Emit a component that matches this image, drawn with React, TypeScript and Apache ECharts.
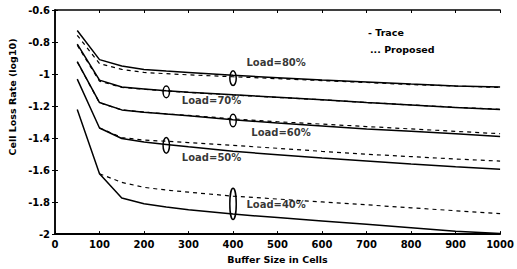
import React, { useEffect, useRef } from "react";
import * as echarts from "echarts";

const bufferSizes = [50, 100, 150, 200, 250, 300, 400, 500, 600, 700, 800, 900, 1000];

const trace80 = [-0.728, -0.91, -0.95, -0.971, -0.981, -0.99, -1.008, -1.023, -1.038, -1.05, -1.063, -1.075, -1.081];
const proposed80 = [-0.758, -0.935, -0.971, -0.99, -0.998, -1.005, -1.017, -1.029, -1.041, -1.053, -1.066, -1.075, -1.084];

const trace70 = [-0.813, -1.038, -1.081, -1.093, -1.105, -1.114, -1.13, -1.145, -1.16, -1.178, -1.193, -1.209, -1.221];
const proposed70 = [-0.82, -1.045, -1.083, -1.095, -1.106, -1.115, -1.131, -1.146, -1.161, -1.178, -1.193, -1.208, -1.22];

const trace60 = [-0.923, -1.178, -1.224, -1.239, -1.25, -1.26, -1.285, -1.306, -1.324, -1.343, -1.358, -1.373, -1.391];
const proposed60 = [-0.925, -1.18, -1.224, -1.238, -1.249, -1.258, -1.28, -1.298, -1.313, -1.328, -1.343, -1.358, -1.373];

const trace50 = [-1.032, -1.337, -1.403, -1.425, -1.44, -1.455, -1.483, -1.504, -1.525, -1.543, -1.562, -1.58, -1.595];
const proposed50 = [null, -1.337, -1.397, -1.413, -1.42, -1.428, -1.446, -1.464, -1.483, -1.501, -1.516, -1.531, -1.544];

const trace40 = [-1.221, -1.623, -1.775, -1.811, -1.83, -1.848, -1.875, -1.897, -1.918, -1.939, -1.96, -1.982, -1.997];
const proposed40 = [null, -1.623, -1.677, -1.708, -1.725, -1.738, -1.763, -1.781, -1.799, -1.817, -1.836, -1.854, -1.872];

// ellipse markers: [buffer size, top value, bottom value]
const ellipses = [
  [400, -0.98, -1.072],
  [250, -1.075, -1.148],
  [400, -1.251, -1.33],
  [250, -1.397, -1.495],
  [400, -1.714, -1.909],
];

// load labels: [buffer size, value, text]
const loadLabels: [number, number, string][] = [
  [430, -0.929, "Load=80%"],
  [285, -1.163, "Load=70%"],
  [441, -1.367, "Load=60%"],
  [285, -1.522, "Load=50%"],
  [430, -1.817, "Load=40%"],
];

const FONT = "DejaVu Sans";

function pair(vals: (number | null)[]) {
  return bufferSizes.map((x, i) => [x, vals[i]]);
}

export default function App() {
  const ref = useRef<HTMLDivElement>(null);
  useEffect(() => {
    if (!ref.current) return;
    const chart = echarts.init(ref.current, null, { renderer: "svg" });
    const solid = (vals: number[]) => ({
      type: "line",
      data: pair(vals),
      showSymbol: false,
      symbol: "none",
      lineStyle: { color: "#000", width: 1.5, type: "solid" },
      xAxisIndex: 0,
      yAxisIndex: 0,
      z: 3,
    });
    const dashed = (vals: (number | null)[]) => ({
      type: "line",
      data: pair(vals),
      showSymbol: false,
      symbol: "none",
      connectNulls: false,
      lineStyle: { color: "#000", width: 1.2, type: [4, 4] },
      xAxisIndex: 0,
      yAxisIndex: 0,
      z: 3,
    });
    const tickCommon = {
      axisTick: { inside: true, length: 3, lineStyle: { color: "#000", width: 1 } },
      splitLine: { show: false },
    };
    chart.setOption({
      animation: false,
      backgroundColor: "#fff",
      grid: { left: 55, right: 13, top: 10, bottom: 29, containLabel: false },
      xAxis: [
        {
          type: "value",
          min: 0,
          max: 1000,
          interval: 100,
          position: "bottom",
          axisLine: { lineStyle: { color: "#000", width: 1.8 } },
          axisLabel: {
            color: "#000",
            fontFamily: FONT,
            fontWeight: "bold",
            fontSize: 10,
            margin: 5,
            formatter: (v: number) => String(v),
          },
          name: "Buffer Size in Cells",
          nameLocation: "middle",
          nameGap: 15,
          nameTextStyle: { color: "#000", fontFamily: FONT, fontWeight: "bold", fontSize: 9.5 },
          ...tickCommon,
        },
        {
          type: "value",
          min: 0,
          max: 1000,
          interval: 100,
          position: "top",
          axisLine: { lineStyle: { color: "#000", width: 1.5 } },
          axisLabel: { show: false },
          ...tickCommon,
        },
      ],
      yAxis: [
        {
          type: "value",
          min: -2,
          max: -0.6,
          interval: 0.2,
          position: "left",
          axisLine: { show: true, lineStyle: { color: "#000", width: 1.5 } },
          axisLabel: {
            color: "#000",
            fontFamily: FONT,
            fontWeight: "bold",
            fontSize: 10,
            margin: 5,
            formatter: (v: number) => String(Math.round(v * 10) / 10),
          },
          ...tickCommon,
        },
        {
          type: "value",
          min: -2,
          max: -0.6,
          interval: 0.2,
          position: "right",
          axisLine: { show: true, lineStyle: { color: "#000", width: 1.5 } },
          axisLabel: { show: false },
          ...tickCommon,
        },
      ],
      series: [
        solid(trace80),
        dashed(proposed80),
        solid(trace70),
        dashed(proposed70),
        solid(trace60),
        dashed(proposed60),
        solid(trace50),
        dashed(proposed50),
        solid(trace40),
        dashed(proposed40),
        {
          type: "custom",
          data: ellipses,
          encode: { x: 0, y: [1, 2] },
          z: 5,
          renderItem: (params: any, api: any) => {
            const x = api.value(0);
            const p1 = api.coord([x, api.value(1)]);
            const p2 = api.coord([x, api.value(2)]);
            return {
              type: "ellipse",
              shape: {
                cx: p1[0],
                cy: (p1[1] + p2[1]) / 2,
                rx: 3.2,
                ry: Math.abs(p2[1] - p1[1]) / 2,
              },
              style: { fill: "rgba(255,255,255,0)", stroke: "#000", lineWidth: 1.5 },
            };
          },
        },
        {
          type: "scatter",
          symbolSize: 0,
          z: 6,
          data: loadLabels.map((d) => ({ value: [d[0], d[1]], name: d[2] })),
          label: {
            show: true,
            position: "right",
            distance: 0,
            formatter: (p: any) => p.name,
            color: "#000",
            fontFamily: FONT,
            fontWeight: "bold",
            fontSize: 10,
          },
        },
      ],
      graphic: [
        {
          type: "text",
          x: 12,
          y: 97,
          rotation: Math.PI / 2,
          style: {
            text: "Cell Loss Rate (log10)",
            font: `bold 9.5px "${FONT}"`,
            fill: "#000",
            textAlign: "center",
            textVerticalAlign: "middle",
          },
        },
        {
          type: "text",
          x: 368,
          y: 32.5,
          style: {
            text: "- Trace",
            font: `bold 9.5px "${FONT}"`,
            fill: "#000",
            textAlign: "left",
            textVerticalAlign: "middle",
          },
        },
        {
          type: "text",
          x: 370,
          y: 49,
          style: {
            text: "... Proposed",
            font: `bold 9.5px "${FONT}"`,
            fill: "#000",
            textAlign: "left",
            textVerticalAlign: "middle",
          },
        },
      ],
    });
    return () => chart.dispose();
  }, []);
  return <div ref={ref} style={{ width: 517, height: 269, position: "absolute", left: 0, top: 0 }} />;
}
